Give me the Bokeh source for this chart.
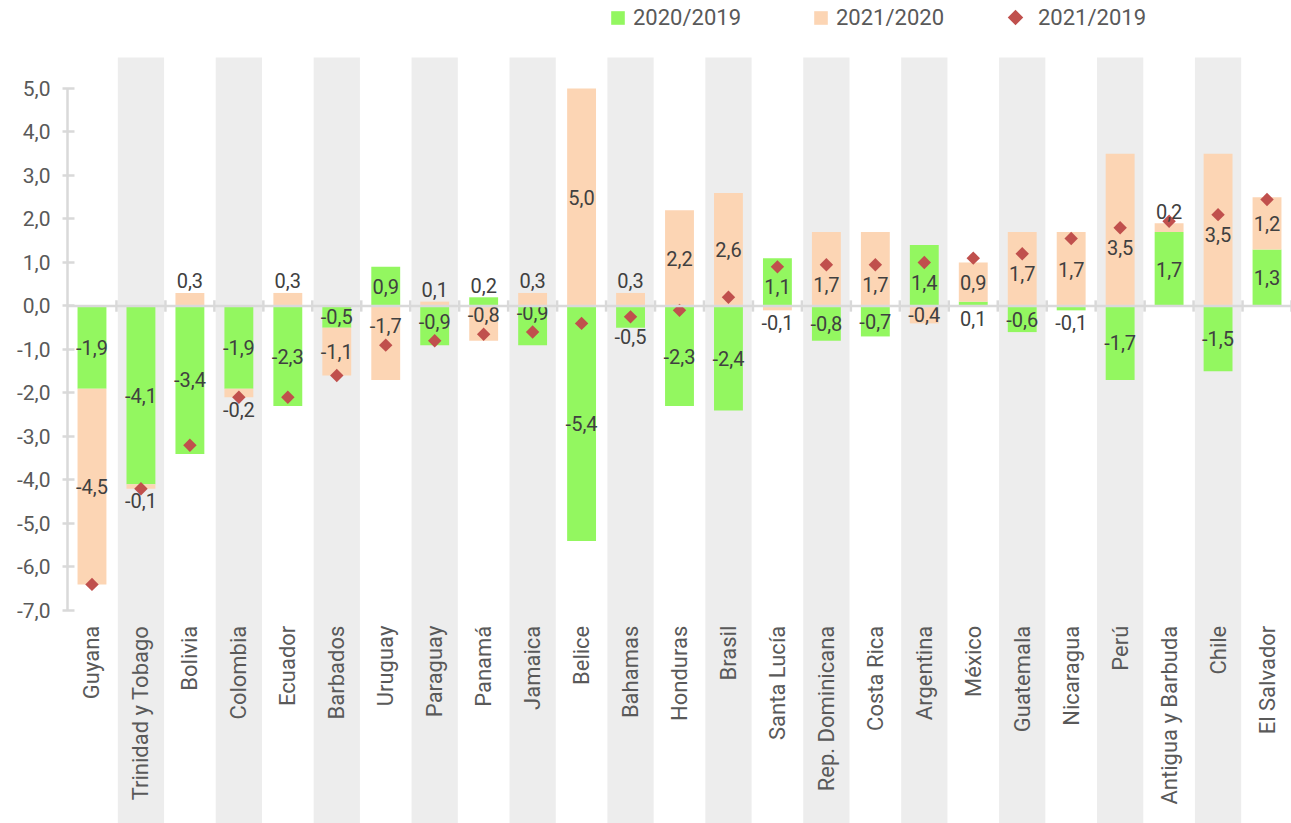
import numpy as np
from bokeh.plotting import figure
from bokeh.models import ColumnDataSource, Span, Legend, LegendItem, FixedTicker
from bokeh.embed import file_html
from bokeh.resources import INLINE
from bokeh.core.properties import value

countries = ["Guyana", "Trinidad y Tobago", "Bolivia", "Colombia", "Ecuador", "Barbados",
             "Uruguay", "Paraguay", "Panamá", "Jamaica", "Belice", "Bahamas", "Honduras",
             "Brasil", "Santa Lucía", "Rep. Dominicana", "Costa Rica", "Argentina", "México",
             "Guatemala", "Nicaragua", "Perú", "Antigua y Barbuda", "Chile", "El Salvador"]
v2020_2019 = [-1.9, -4.1, -3.4, -1.9, -2.3, -0.5, 0.9, -0.9, 0.2, -0.9, -5.4, -0.5, -2.3,
              -2.4, 1.1, -0.8, -0.7, 1.4, 0.1, -0.6, -0.1, -1.7, 1.7, -1.5, 1.3]
v2021_2020 = [-4.5, -0.1, 0.3, -0.2, 0.3, -1.1, -1.7, 0.1, -0.8, 0.3, 5.0, 0.3, 2.2,
              2.6, -0.1, 1.7, 1.7, -0.4, 0.9, 1.7, 1.7, 3.5, 0.2, 3.5, 1.2]
v2021_2019 = [-6.4, -4.2, -3.2, -2.1, -2.1, -1.6, -0.9, -0.8, -0.65, -0.6, -0.4, -0.25, -0.1,
              0.2, 0.9, 0.95, 0.95, 1.0, 1.1, 1.2, 1.55, 1.8, 1.95, 2.1, 2.45]
y_ticks = [-7, -6, -5, -4, -3, -2, -1, 0, 1, 2, 3, 4, 5]
series_names = ["2020/2019", "2021/2020", "2021/2019"]

GREEN = "#93F760"
PEACH = "#FCD5B4"
RED = "#C0504D"
BAND = "#EDEDED"
AXIS = "#D9D9D9"
TXT = "#595959"
LBL = "#404040"
FONT = value("Roboto")

W, H = 1291, 823
LEFT = 67
Y_START, Y_END = -11.897, 7.023
BAND_TOP = 5.713

n = len(countries)
x = np.arange(n)
g = np.array(v2020_2019)
r = np.array(v2021_2020)
d = np.array(v2021_2019)

same = np.sign(r) == np.sign(g)
p_bottom = np.where(same, g, 0.0)
p_top = p_bottom + r

def fmt(v):
    return f"{v:.1f}".replace(".", ",")

def label_pos(lo, hi, val, outer_free, dia):
    c = (lo + hi) / 2.0
    if abs(val) <= 0.3:
        s = 1 if val > 0 else -1
        if outer_free:
            return (hi if s > 0 else lo) + s * 0.28
        return -s * 0.28
    if abs(c - dia) < 0.4:
        s = np.sign(c - dia)
        if s == 0:
            s = np.sign(c)
        return dia + s * 0.45
    return c

g_lab_y, p_lab_y = [], []
for i in range(n):
    g_lo, g_hi = min(0, g[i]), max(0, g[i])
    g_lab_y.append(label_pos(g_lo, g_hi, g[i], not same[i], d[i]))
    pl, ph = min(p_bottom[i], p_top[i]), max(p_bottom[i], p_top[i])
    p_lab_y.append(label_pos(pl, ph, r[i], True, d[i]))

p = figure(width=W, height=H, x_range=(-0.5, n - 0.5), y_range=(Y_START, Y_END),
           output_backend="svg", toolbar_location=None, min_border_left=LEFT,
           min_border_right=0, min_border_top=0, min_border_bottom=0)
p.outline_line_color = None
p.xgrid.visible = False
p.ygrid.visible = False
p.xaxis.visible = False
p.background_fill_color = "white"
p.border_fill_color = "white"

odd = x[1::2]
p.vbar(x=odd, width=0.945, bottom=Y_START, top=BAND_TOP, color=BAND, line_color=None)

src = ColumnDataSource(dict(x=x, g=g, pb=p_bottom, pt=p_top, d=d,
                            gy=g_lab_y, py=p_lab_y,
                            gt=[fmt(v) for v in g], pt_txt=[fmt(v) for v in r],
                            name=countries))

rg = p.vbar(x="x", width=0.59, bottom=0, top="g", source=src, color=GREEN, line_color=None)
rp = p.vbar(x="x", width=0.59, bottom="pb", top="pt", source=src, color=PEACH, line_color=None)

zero = Span(location=0, dimension="width", line_color=AXIS, line_width=2.5)
p.add_layout(zero)
bx = x + 0.5
p.segment(x0=bx, x1=bx, y0=-0.13, y1=0.13, line_color=AXIS, line_width=2.5)

rd = p.scatter(x="x", y="d", source=src, marker="square", angle=np.pi / 4, size=9.5,
               color=RED, line_color=None)

p.text(x="x", y="gy", text="gt", source=src, text_align="center", text_baseline="middle",
       text_font=FONT, text_font_size="20px", text_color=LBL)
p.text(x="x", y="py", text="pt_txt", source=src, text_align="center", text_baseline="middle",
       text_font=FONT, text_font_size="20px", text_color=LBL)

p.text(x="x", y=-7.35, text="name", source=src, angle=np.pi / 2, text_align="right",
       text_baseline="middle", text_font=FONT, text_font_size="22px", text_color=TXT)

ax = p.yaxis[0]
ax.ticker = FixedTicker(ticks=y_ticks)
ax.bounds = (min(y_ticks), max(y_ticks))
ax.major_label_overrides = {t: fmt(t) for t in y_ticks}
ax.axis_line_color = AXIS
ax.axis_line_width = 2.5
ax.major_tick_line_color = AXIS
ax.major_tick_line_width = 2.5
ax.major_tick_in = 7
ax.major_tick_out = 5
ax.minor_tick_line_color = None
ax.major_label_standoff = 12
ax.major_label_text_font = "Roboto"
ax.major_label_text_font_size = "21px"
ax.major_label_text_color = TXT

# legend key for the diamond series: a rotated square placed at a screen position
px_x, px_y = 1015, 17
fw = W - LEFT
kx = -0.5 + (px_x - LEFT) / fw * n
ky = Y_END - px_y / H * (Y_END - Y_START)
p.scatter(x=[kx], y=[ky], marker="square", angle=np.pi / 4, size=11, color=RED,
          line_color=None)
dummy = p.scatter(x=[kx], y=[ky], marker="square", size=1, fill_alpha=0, line_alpha=0)

def mk_legend(rend, label, loc):
    lg = Legend(items=[LegendItem(label=label, renderers=[rend])], location=loc,
                orientation="horizontal", glyph_width=17, glyph_height=17,
                label_text_font="Roboto", label_text_font_size="22px",
                label_text_color=TXT, label_standoff=7, label_height=22,
                padding=0, margin=0, border_line_color=None,
                background_fill_alpha=0)
    p.add_layout(lg)

mk_legend(rg, series_names[0], (542, 793))
mk_legend(rp, series_names[1], (745, 793))
mk_legend(dummy, series_names[2], (947, 793))

open("out.html", "w").write(file_html(p, INLINE))
